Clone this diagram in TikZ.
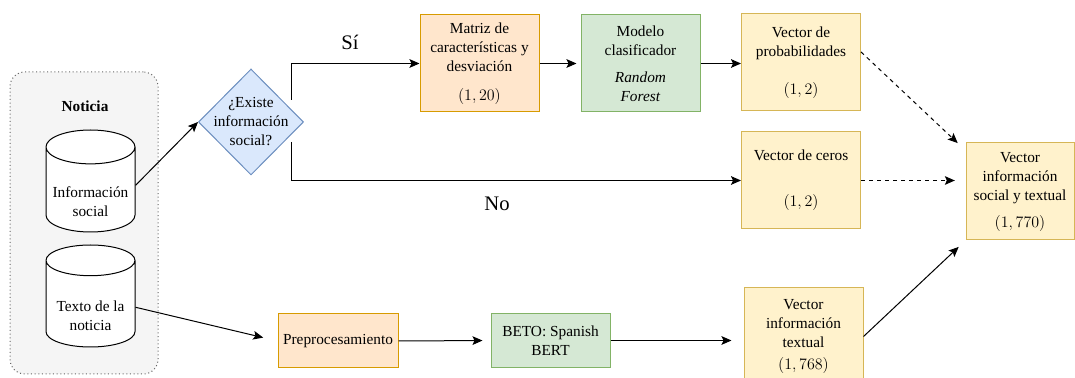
\documentclass[tikz,border=0pt]{standalone}
\usepackage{fontspec}
\setmainfont{Liberation Serif}
\usetikzlibrary{arrows.meta,%
		calc,%
		positioning,%
		shapes.geometric}

\definecolor{naranjaf}{HTML}{FFE6CC}
\definecolor{naranjab}{HTML}{D79B00}
\definecolor{verdef}{HTML}{D5E8D4}
\definecolor{verdeb}{HTML}{82B366}
\definecolor{amarillof}{HTML}{FFF2CC}
\definecolor{amarillob}{HTML}{D6B656}
\definecolor{azulf}{HTML}{DAE8FC}
\definecolor{azulb}{HTML}{6C8EBF}
\definecolor{grisf}{HTML}{F5F5F5}
\definecolor{grisb}{HTML}{666666}

\tikzset{
  caja/.style={draw, line width=0.75pt, align=center, minimum width=89.25pt,
    minimum height=72.75pt, inner sep=1pt},
  naranja/.style={caja, fill=naranjaf, draw=naranjab},
  verde/.style={caja, fill=verdef, draw=verdeb},
  amarilla/.style={caja, fill=amarillof, draw=amarillob},
  rombo/.style={diamond, draw=azulb, fill=azulf, line width=0.75pt,
    minimum width=78.75pt, minimum height=79.5pt, inner sep=0pt},
  bd/.style={cylinder, shape border rotate=90, draw, fill=white, line width=0.75pt,
    aspect=0.4, minimum width=66.75pt, minimum height=76.5pt, align=center,
    anchor=shape center},
  grupo/.style={draw=grisb, fill=grisf, dotted, line width=0.75pt,
    rounded corners=11pt, minimum width=111pt, minimum height=226.5pt},
  flecha/.style={-{Stealth[length=7.5pt,width=6.5pt,inset=1.5pt]}, line width=0.75pt},
  rotulo/.style={font=\fontsize{15.5}{17}\selectfont}
}

\begin{document}
\begin{tikzpicture}[x=0.75pt,y=0.75pt,font=\fontsize{11.5}{14.25}\selectfont]

  \useasboundingbox (0,0) rectangle (1075,378);

  % entrada
  \node[grupo] (grupo) at (84,155) {};
  \node[font=\fontsize{11.5}{14.25}\selectfont\bfseries] (titulo) at (85,272) {Noticia};
  \node[bd] (social) at (90.5,197) {\rule{0pt}{21pt}Información\\social};
  \node[bd] (texto) at (90.5,82) {\rule{0pt}{21pt}Texto de la\\noticia};

  % decision
  \node[rombo] (dia) at (251,256) {};
  \node[align=center] (diatxt) at (dia.center) {¿Existe\\información\\social?};

  % rama superior
  \node[naranja] (matriz) at (479.5,314.5) {Matriz de\\características y\\desviación\\[7.5pt]$(1,20)$};
  \node[verde] (modelo) at (640.5,314.5) {Modelo\\clasificador\\[6pt]\textit{Random}\\\textit{Forest}};
  \node[amarilla] (vprob) at (801,315.5) {Vector de\\probabilidades\\[14pt]$(1,2)$};
  \node[amarilla] (ceros) at (801,197.5) {Vector de ceros\\[20pt]$(1,2)$};
  \node[amarilla, minimum width=81pt] (final) at (1020,186.5) {Vector\\información\\social y textual\\[6pt]$(1,770)$};

  % rama inferior
  \node[naranja, minimum width=90pt, minimum height=40.5pt] (preproc) at (338,37) {Preprocesamiento};
  \node[verde, minimum height=41pt] (beto) at (550.5,37.5) {BETO: Spanish\\BERT};
  \node[amarilla] (vtext) at (803.5,41.5) {Vector\\información\\textual\\[2pt]$(1,768)$};

  \node[rotulo] (si) at (350,336) {Sí};
  \node[rotulo] (no) at (497,174) {No};

  % conexiones
  \coordinate (siarr) at ($(dia.east)+(-13,22)$);
  \coordinate (noarr) at ($(dia.east)+(-13,-20)$);
  \coordinate (socarr) at ($(social.east)+(0,8)$);
  \draw[flecha] (socarr) -- (dia.west);
  \draw[flecha, shorten >=11pt] (texto.east) -- (preproc.west);
  \draw[flecha] (siarr) |- (matriz.west);
  \draw[flecha] (noarr) |- (ceros.west);
  \draw[flecha, shorten >=3pt] (matriz.east) -- (modelo.west);
  \draw[flecha] (modelo.east) -- (modelo.east -| vprob.west);
  \draw[flecha, dashed, shorten >=8pt] (vprob.10) -- (final.143);
  \draw[flecha, dashed, shorten >=8pt] (ceros.east) -- (ceros.east -| final.west);
  \draw[flecha, shorten >=6pt] (preproc.east) -- (beto.west);
  \draw[flecha, shorten >=9pt] (beto.east) -- (beto.east -| vtext.west);
  \draw[flecha, shorten >=7pt] (vtext.east) -- (final.south west);

\end{tikzpicture}
\end{document}
